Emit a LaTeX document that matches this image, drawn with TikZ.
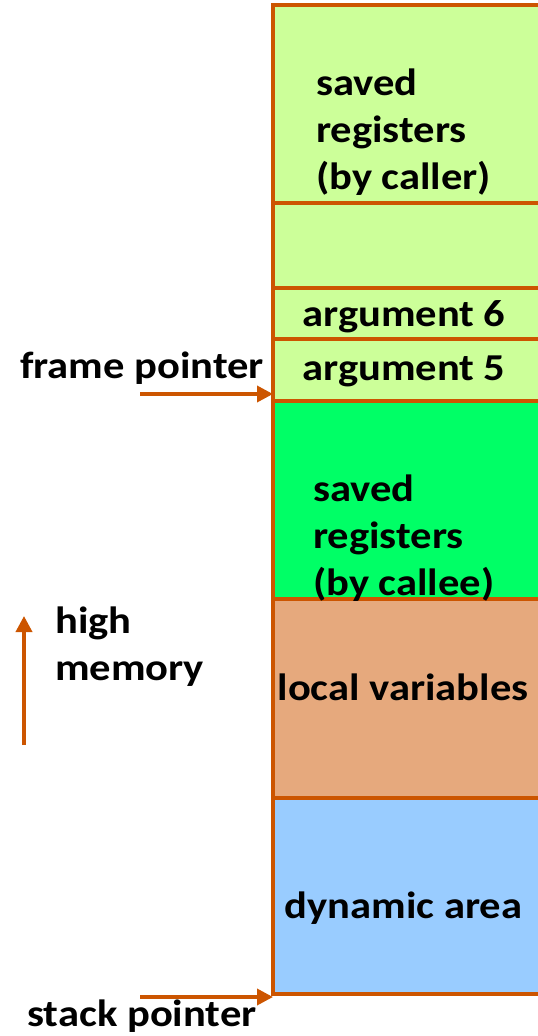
\documentclass[tikz,border=0pt]{standalone}
\usepackage{fontspec}
\setmainfont{Carlito}[FakeStretch=1.12]
\usetikzlibrary{arrows.meta}
\definecolor{bord}{HTML}{CC5500}
\definecolor{lgreen}{HTML}{CCFF99}
\definecolor{bgreen}{HTML}{00FF66}
\definecolor{tanc}{HTML}{E6A97D}
\definecolor{lblue}{HTML}{99CCFF}
\begin{document}
\begin{tikzpicture}[x=1pt,y=-1pt,
  cell/.style={anchor=north west,inner sep=0pt,outer sep=0pt,minimum width=265pt,draw=none},
  border/.style={draw=bord,line width=4pt},
  lbl/.style={inner sep=0pt,font=\fontsize{38}{46.7}\selectfont\bfseries,align=left},
  ptr/.style={draw=bord,line width=3.6pt,-{Triangle[length=16pt,width=16pt]}}]
\useasboundingbox (0,0) rectangle (538,1036);
% cells
\node[cell,fill=lgreen,minimum height=198pt] (c1) at (273,5) {};
\node[cell,fill=lgreen,minimum height=85pt] (c2) at (273,203) {};
\node[cell,fill=lgreen,minimum height=51pt] (c3) at (273,288) {};
\node[cell,fill=lgreen,minimum height=62pt] (c4) at (273,339) {};
\node[cell,fill=bgreen,minimum height=198pt] (c5) at (273,401) {};
\node[cell,fill=tanc,minimum height=199pt] (c6) at (273,599) {};
\node[cell,fill=lblue,minimum height=196pt] (c7) at (273,798) {};
% borders
\draw[border] (c1.north east) -- (c1.north west) -- (c7.south west) -- (c7.south east);
\draw[border] (c1.south west) -- (c1.south east);
\draw[border] (c2.south west) -- (c2.south east);
\draw[border] (c3.south west) -- (c3.south east);
\draw[border] (c4.south west) -- (c4.south east);
\draw[border] (c5.south west) -- (c5.south east);
\draw[border] (c6.south west) -- (c6.south east);
% texts
\node[lbl,anchor=base west] (t1) at (316,189) {saved\\registers\\(by caller)};
\node[lbl,anchor=base] (t3) at (404,326) {argument 6};
\node[lbl,anchor=base] (t4) at (404,380) {argument 5};
\node[lbl,anchor=base west] (t5) at (313,595) {saved\\registers\\(by callee)};
\node[lbl,anchor=base] (t6) at (403,700) {local variables};
\node[lbl,anchor=base] (t7) at (403.5,918) {dynamic area};
\node[lbl,anchor=base] (fpl) at (142,378) {frame pointer};
\node[lbl,anchor=base] (spl) at (142,1026) {stack pointer};
\node[lbl,anchor=base west] (hm) at (55,680) {high\\memory};
% arrows
\coordinate (fptail) at (140,394);
\coordinate (fphead) at (273,394);
\coordinate (sptail) at (140,997);
\coordinate (sphead) at (273,997);
\coordinate (uptail) at (24,745);
\coordinate (uphead) at (24,616);
\draw[ptr] (fptail) -- (fphead);
\draw[ptr] (sptail) -- (sphead);
\draw[ptr] (uptail) -- (uphead);
\end{tikzpicture}
\end{document}
